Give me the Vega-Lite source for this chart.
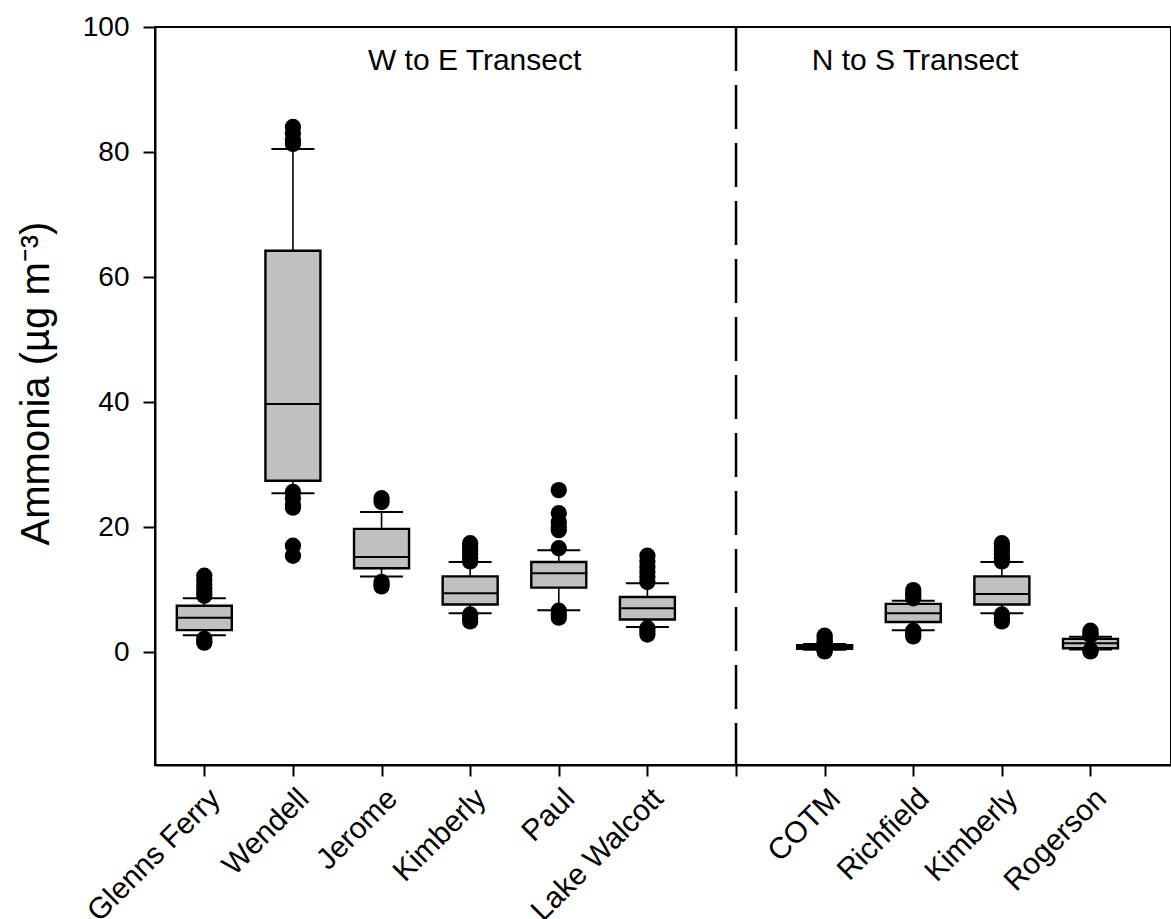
{
  "$schema": "https://vega.github.io/schema/vega-lite/v6.json",
  "autosize": "none",
  "padding": {"left": 155, "top": 27, "right": 0, "bottom": 154},
  "width": 1016,
  "height": 738,
  "background": "white",
  "config": {
    "view": {"stroke": "black", "strokeWidth": 2},
    "font": "Liberation Sans",
    "axis": {
      "grid": false,
      "domainColor": "black",
      "domainWidth": 2,
      "tickColor": "black",
      "tickWidth": 2,
      "labelColor": "black",
      "titleColor": "black",
      "labelFont": "Liberation Sans",
      "titleFont": "Liberation Sans",
      "titleFontWeight": "normal"
    }
  },
  "datasets": {
    "boxes": [
      {"pos": 1, "site": "Glenns Ferry", "lower": 2.7, "q1": 3.5, "median": 5.5, "q3": 7.4, "upper": 8.6},
      {"pos": 2, "site": "Wendell", "lower": 25.4, "q1": 27.4, "median": 39.7, "q3": 64.2, "upper": 80.5},
      {"pos": 3, "site": "Jerome", "lower": 12.1, "q1": 13.4, "median": 15.2, "q3": 19.7, "upper": 22.4},
      {"pos": 4, "site": "Kimberly", "lower": 6.2, "q1": 7.6, "median": 9.4, "q3": 12.1, "upper": 14.4},
      {"pos": 5, "site": "Paul", "lower": 6.7, "q1": 10.3, "median": 12.6, "q3": 14.4, "upper": 16.3},
      {"pos": 6, "site": "Lake Walcott", "lower": 4.0, "q1": 5.2, "median": 7.0, "q3": 8.8, "upper": 11.0},
      {"pos": 8, "site": "COTM", "lower": 0.35, "q1": 0.5, "median": 0.8, "q3": 1.1, "upper": 1.3},
      {"pos": 9, "site": "Richfield", "lower": 3.5, "q1": 4.8, "median": 6.2, "q3": 7.7, "upper": 8.2},
      {"pos": 10, "site": "Kimberly", "lower": 6.2, "q1": 7.6, "median": 9.3, "q3": 12.1, "upper": 14.4},
      {"pos": 11, "site": "Rogerson", "lower": 0.4, "q1": 0.6, "median": 1.4, "q3": 2.1, "upper": 2.45}
    ],
    "outliers": [
      {"pos": 1, "value": 12.2}, {"pos": 1, "value": 11.5}, {"pos": 1, "value": 10.8}, {"pos": 1, "value": 10.2}, {"pos": 1, "value": 9.6}, {"pos": 1, "value": 9.0},
      {"pos": 1, "value": 2.1}, {"pos": 1, "value": 1.7}, {"pos": 1, "value": 1.5},
      {"pos": 2, "value": 84.0}, {"pos": 2, "value": 83.0}, {"pos": 2, "value": 82.0}, {"pos": 2, "value": 81.3},
      {"pos": 2, "value": 25.6}, {"pos": 2, "value": 24.6}, {"pos": 2, "value": 23.6}, {"pos": 2, "value": 23.1}, {"pos": 2, "value": 17.0}, {"pos": 2, "value": 15.4},
      {"pos": 3, "value": 24.6}, {"pos": 3, "value": 24.0},
      {"pos": 3, "value": 11.2}, {"pos": 3, "value": 10.8}, {"pos": 3, "value": 10.5},
      {"pos": 4, "value": 17.4}, {"pos": 4, "value": 16.8}, {"pos": 4, "value": 16.2}, {"pos": 4, "value": 15.6}, {"pos": 4, "value": 15.0}, {"pos": 4, "value": 14.5},
      {"pos": 4, "value": 6.0}, {"pos": 4, "value": 5.4}, {"pos": 4, "value": 4.9},
      {"pos": 5, "value": 25.9}, {"pos": 5, "value": 22.2}, {"pos": 5, "value": 20.8}, {"pos": 5, "value": 20.0}, {"pos": 5, "value": 19.5}, {"pos": 5, "value": 16.6},
      {"pos": 5, "value": 6.6}, {"pos": 5, "value": 6.0}, {"pos": 5, "value": 5.5},
      {"pos": 6, "value": 15.4}, {"pos": 6, "value": 14.5}, {"pos": 6, "value": 13.6}, {"pos": 6, "value": 12.8}, {"pos": 6, "value": 12.0}, {"pos": 6, "value": 11.2},
      {"pos": 6, "value": 3.8}, {"pos": 6, "value": 3.3}, {"pos": 6, "value": 2.8},
      {"pos": 8, "value": 2.6}, {"pos": 8, "value": 2.1}, {"pos": 8, "value": 1.7}, {"pos": 8, "value": 1.5}, {"pos": 8, "value": 0.3}, {"pos": 8, "value": 0.1},
      {"pos": 9, "value": 9.9}, {"pos": 9, "value": 9.5}, {"pos": 9, "value": 9.0}, {"pos": 9, "value": 8.6},
      {"pos": 9, "value": 3.4}, {"pos": 9, "value": 2.9}, {"pos": 9, "value": 2.5},
      {"pos": 10, "value": 17.4}, {"pos": 10, "value": 16.8}, {"pos": 10, "value": 16.2}, {"pos": 10, "value": 15.6}, {"pos": 10, "value": 15.0}, {"pos": 10, "value": 14.5},
      {"pos": 10, "value": 6.0}, {"pos": 10, "value": 5.4}, {"pos": 10, "value": 4.9},
      {"pos": 11, "value": 3.4}, {"pos": 11, "value": 3.0}, {"pos": 11, "value": 2.7}, {"pos": 11, "value": 0.25}, {"pos": 11, "value": 0.1}
    ],
    "divider": [{"pos": 7}],
    "labels": [
      {"pos": 4.05, "value": 94.5, "text": "W  to E Transect"},
      {"pos": 9.02, "value": 94.5, "text": "N to S Transect"}
    ]
  },
  "encoding": {
    "x": {
      "field": "pos",
      "type": "quantitative",
      "scale": {"domain": [0.5, 11.852], "nice": false, "zero": false},
      "axis": {
        "title": null,
        "values": [1, 2, 3, 4, 5, 6, 7, 8, 9, 10, 11],
        "labelExpr": "['', 'Glenns Ferry', 'Wendell', 'Jerome', 'Kimberly', 'Paul', 'Lake Walcott', '', 'COTM', 'Richfield', 'Kimberly', 'Rogerson'][datum.value]",
        "labelAngle": -45,
        "labelFontSize": 30,
        "tickSize": 11,
        "labelPadding": 7,
        "labelOverlap": false,
        "labelFlush": false,
        "labelBound": false
      }
    }
  },
  "layer": [
    {
      "data": {"name": "divider"},
      "mark": {"type": "rule", "color": "black", "strokeWidth": 2.5, "strokeDash": [44, 14]},
      "encoding": {}
    },
    {
      "data": {"name": "boxes"},
      "mark": {"type": "rule", "color": "black", "strokeWidth": 1.6},
      "encoding": {
        "y": {
          "field": "lower",
          "type": "quantitative",
          "scale": {"domain": [-18.08, 100], "nice": false, "zero": false},
          "axis": {
            "title": "Ammonia (µg m⁻³)",
            "titleFontSize": 40,
            "titlePadding": 26,
            "titleY": 356,
            "values": [0, 20, 40, 60, 80, 100],
            "labelFontSize": 28,
            "tickSize": 12,
            "labelPadding": 14
          }
        },
        "y2": {"field": "upper"}
      }
    },
    {
      "data": {"name": "boxes"},
      "mark": {"type": "bar", "size": 55, "fill": "#c0c0c0", "stroke": "black", "strokeWidth": 2.4},
      "encoding": {
        "y": {"field": "q1", "type": "quantitative"},
        "y2": {"field": "q3"}
      }
    },
    {
      "data": {"name": "boxes"},
      "mark": {"type": "tick", "orient": "horizontal", "size": 55, "thickness": 2, "color": "black", "opacity": 1},
      "encoding": {"y": {"field": "median", "type": "quantitative"}}
    },
    {
      "data": {"name": "boxes"},
      "mark": {"type": "tick", "orient": "horizontal", "size": 43, "thickness": 2, "color": "black", "opacity": 1},
      "encoding": {"y": {"field": "upper", "type": "quantitative"}}
    },
    {
      "data": {"name": "boxes"},
      "mark": {"type": "tick", "orient": "horizontal", "size": 43, "thickness": 2, "color": "black", "opacity": 1},
      "encoding": {"y": {"field": "lower", "type": "quantitative"}}
    },
    {
      "data": {"name": "outliers"},
      "mark": {"type": "point", "filled": true, "shape": "circle", "size": 265, "color": "black", "opacity": 1},
      "encoding": {"y": {"field": "value", "type": "quantitative"}}
    },
    {
      "data": {"name": "labels"},
      "mark": {"type": "text", "fontSize": 30, "color": "black", "align": "center", "baseline": "middle", "font": "Liberation Sans"},
      "encoding": {
        "y": {"field": "value", "type": "quantitative"},
        "text": {"field": "text"}
      }
    }
  ]
}
